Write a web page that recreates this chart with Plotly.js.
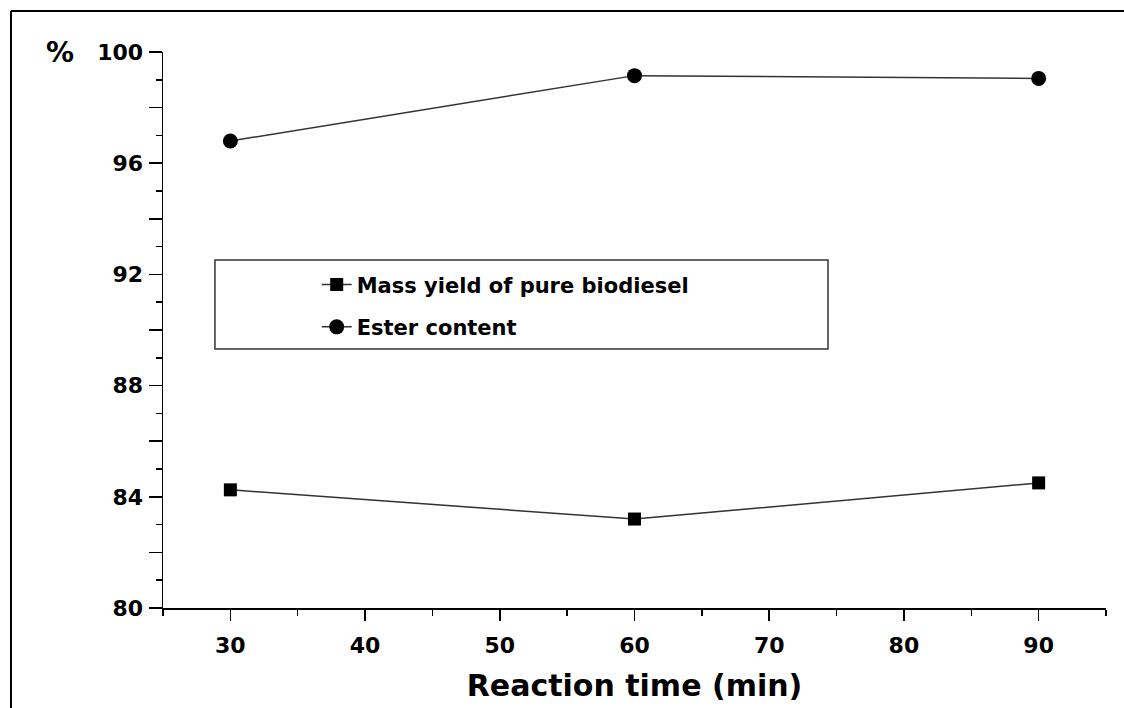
<!DOCTYPE html>
<html>
<head>
<meta charset="utf-8">
<script src="https://cdn.plot.ly/plotly-3.0.1.min.js"></script>
<style>html,body{margin:0;padding:0;background:#fff;}#chart{width:1124px;height:708px;}</style>
</head>
<body>
<div id="chart"></div>
<script>
const reactionTime = [30, 60, 90];
const massYield = [84.25, 83.2, 84.5];
const esterContent = [96.8, 99.15, 99.05];
const seriesNames = ["Mass yield of pure biodiesel", "Ester content"];
const yTickVals = [80, 82, 84, 86, 88, 90, 92, 94, 96, 98, 100];
const yTickText = ["80", "", "84", "", "88", "", "92", "", "96", "", "100"];
const xTickVals = [30, 40, 50, 60, 70, 80, 90];

const FONT = "DejaVu Sans, Arial, sans-serif";

const traces = [
  {
    x: reactionTime, y: massYield, name: seriesNames[0], type: "scatter", mode: "lines+markers",
    line: {color: "#333333", width: 1.5},
    marker: {symbol: "square", size: 13, color: "#000000"},
    legendgroup: "a"
  },
  {
    x: reactionTime, y: esterContent, name: seriesNames[1], type: "scatter", mode: "lines+markers",
    line: {color: "#333333", width: 1.5},
    marker: {symbol: "circle", size: 15, color: "#000000"},
    legendgroup: "b"
  }
];

const layout = {
  width: 1124, height: 708,
  margin: {l: 163, r: 18, t: 52, b: 100},
  paper_bgcolor: "#ffffff", plot_bgcolor: "#ffffff",
  showlegend: true,
  legend: {
    x: 0.163, y: 0.618, xanchor: "left", yanchor: "top",
    bgcolor: "rgba(0,0,0,0)", borderwidth: 0,
    font: {family: FONT, size: 21, color: "#000", weight: "bold"},
    traceorder: "grouped", tracegroupgap: 12
  },
  xaxis: {
    range: [25, 95], tickvals: xTickVals, ticks: "outside", ticklen: 11, tickwidth: 1.5, tickcolor: "#000",
    minor: {dtick: 5, tick0: 25, ticks: "outside", ticklen: 6, tickwidth: 1.5, tickcolor: "#000"},
    showline: true, linecolor: "#000", linewidth: 1.5, showgrid: false, zeroline: false,
    ticklabelstandoff: 6,
    tickfont: {family: FONT, size: 22, color: "#000", weight: "bold"},
    title: {text: "Reaction time (min)", font: {family: FONT, size: 30, color: "#000", weight: "bold"}, standoff: 18}
  },
  yaxis: {
    range: [80, 100], tickvals: yTickVals, ticktext: yTickText, ticks: "outside", ticklen: 13, tickwidth: 1.5, tickcolor: "#000",
    minor: {dtick: 1, tick0: 80, ticks: "outside", ticklen: 6, tickwidth: 1.5, tickcolor: "#000"},
    showline: true, linecolor: "#000", linewidth: 1.5, showgrid: false, zeroline: false,
    ticklabelstandoff: 1,
    tickfont: {family: FONT, size: 22, color: "#000", weight: "bold"}
  },
  shapes: [
    {type: "rect", xref: "paper", yref: "paper", x0: 0.0551, x1: 0.7052, y0: 0.4658, y1: 0.6259,
     line: {color: "#333", width: 1.5}, fillcolor: "rgba(0,0,0,0)"},
    {type: "line", xref: "paper", yref: "paper", x0: -0.1612, x1: -0.1612, y0: 1.0737, y1: -0.25,
     line: {color: "#000", width: 2}},
    {type: "line", xref: "paper", yref: "paper", x0: -0.1612, x1: 1.05, y0: 1.0737, y1: 1.0737,
     line: {color: "#000", width: 2}}
  ],
  annotations: [
    {text: "%", xref: "paper", yref: "paper", x: (60 - 163) / 943, y: 1.0, xanchor: "center", yanchor: "middle",
     showarrow: false, font: {family: FONT, size: 28, color: "#000", weight: "bold"}}
  ]
};

Plotly.newPlot("chart", traces, layout, {displayModeBar: false, staticPlot: true});
</script>
</body>
</html>
